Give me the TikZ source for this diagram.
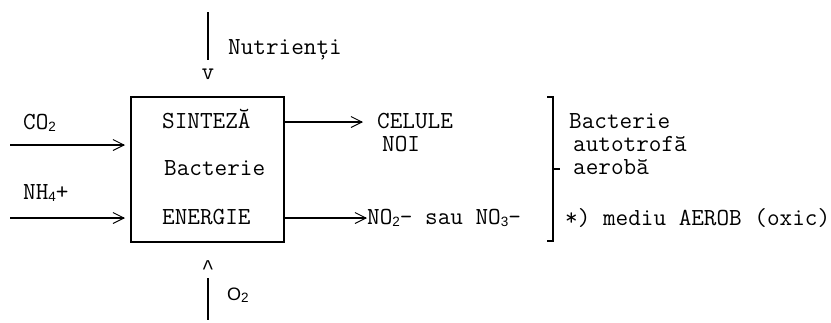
\documentclass[tikz,border=0pt]{standalone}
\usepackage{fontspec}
\usetikzlibrary{arrows.meta}
\newfontfamily\subfnt{Liberation Sans}
\newfontfamily\caretfnt{Liberation Mono}
\newcommand{\sbs}[1]{\raisebox{-2.5pt}{\subfnt\fontsize{13.5}{14}\selectfont #1}}
\tikzset{
  lbl/.style={inner sep=0pt, anchor=base west, font=\ttfamily\fontsize{24.5}{26}\selectfont},
  ctr/.style={inner sep=0pt, anchor=base, font=\ttfamily\fontsize{24.5}{26}\selectfont},
  ln/.style={line width=1.3pt},
  arr/.style={ln, -{Straight Barb[length=11pt,width=11pt,line width=0.9pt]}}
}
\begin{document}
\begin{tikzpicture}[x=1pt,y=-1pt]
\useasboundingbox (0,0) rectangle (831,322);
% box
\draw[ln] (131,97) rectangle (284,242);
% texts in box
\node[lbl] (sint) at (162,128) {SINTEZĂ};
\node[lbl] (bact) at (164,175) {Bacterie};
\node[lbl] (ener) at (162,224) {ENERGIE};
% top input
\coordinate (t1) at (208,12);
\coordinate (t2) at (208,60);
\draw[ln] (t1) -- (t2);
\node[ctr] (vv) at (208,79) {v};
\node[lbl] (nutr) at (228,54) {Nutrienți};
% left inputs
\node[lbl] (co2) at (23,129) {CO\sbs{2}};
\coordinate (a1s) at (10,145);
\coordinate (a1e) at (125,145);
\draw[arr] (a1s) -- (a1e);
\node[lbl] (nh4) at (23,199) {NH\sbs{4}+};
\coordinate (a2s) at (10,218);
\coordinate (a2e) at (125,218);
\draw[arr] (a2s) -- (a2e);
% right outputs
\coordinate (o1s) at (284,122);
\coordinate (o1e) at (363,122);
\draw[arr] (o1s) -- (o1e);
\node[lbl] (cel) at (377,128) {CELULE};
\node[lbl] (noi) at (382,151) {NOI};
\coordinate (o2s) at (284,218);
\coordinate (o2e) at (367,218);
\draw[arr] (o2s) -- (o2e);
\node[lbl] (no) at (367,224) {NO\sbs{2}- sau NO\sbs{3}-};
% right bracket
\coordinate (bT) at (553,97);
\coordinate (bB) at (553,241);
\coordinate (bM) at (553,169);
\draw[ln] (547,97) -- (bT) -- (bB) -- (547,241);
\draw[ln] (bM) -- (560,169);
\node[lbl] (bac2) at (569,128) {Bacterie};
\node[lbl] (auto) at (573,151) {autotrofă};
\node[lbl] (aer) at (573,174) {aerobă};
\node[lbl] (med) at (565,225) {*) mediu AEROB (oxic)};
% bottom input
\node[inner sep=0pt, anchor=base] (hat) at (208,274) {\caretfnt\fontsize{21}{22}\selectfont\symbol{94}};
\coordinate (b1) at (208,278);
\coordinate (b2) at (208,320);
\draw[ln] (b1) -- (b2);
\node[inner sep=0pt, anchor=base west] (o2) at (227,300) {\subfnt\fontsize{18}{20}\selectfont O\sbs{2}};
\end{tikzpicture}
\end{document}
